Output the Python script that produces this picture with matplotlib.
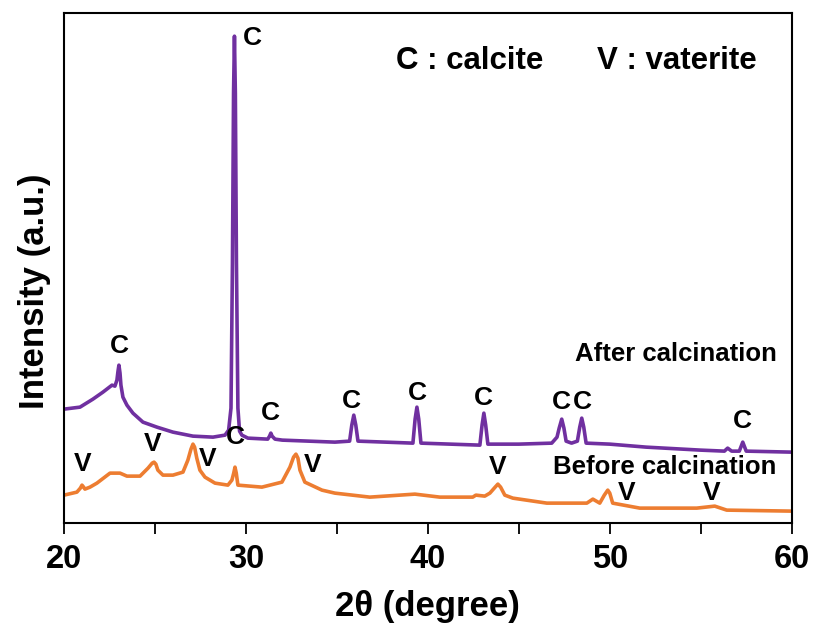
import numpy as np
import matplotlib
matplotlib.use('Agg')
import matplotlib.pyplot as plt
from matplotlib.ticker import MultipleLocator

plt.rcParams['font.family'] = ['Liberation Sans', 'DejaVu Sans']
plt.rcParams['font.weight'] = 'bold'

# XRD pattern after calcination (2theta, intensity a.u.)
after_x = [20.00, 20.88, 21.59, 22.14, 22.64, 22.80, 22.91, 22.97, 23.02, 23.08, 23.13, 23.24,
           23.46, 23.79, 24.34, 25.11, 25.99, 27.09, 28.19, 28.85, 29.05, 29.18,
           29.26, 29.32, 29.37, 29.42, 29.48, 29.56, 29.65, 29.78, 30.11, 31.20, 31.30, 31.37, 31.44,
           31.60, 32.00, 34.89, 35.70, 35.82, 35.93, 36.04, 36.16, 39.18, 39.30, 39.40, 39.50, 39.62,
           42.86, 42.98, 43.08, 43.18, 43.30, 45.00, 46.81, 47.10, 47.22, 47.36, 47.48, 47.60,
           47.90, 48.22, 48.35, 48.46, 48.57, 48.70, 50.00, 52.00, 55.00, 56.30, 56.48, 56.70,
           57.12, 57.31, 57.50, 60.00]
after_y = [114, 116, 124, 131, 138, 137, 143, 152, 158, 150, 138, 126,
           118, 110, 101, 96, 91, 87, 86, 88, 93, 115,
           260, 430, 487, 430, 260, 115, 92, 88, 85, 84, 87, 90, 87,
           84, 83, 81, 82, 98, 108, 98, 82, 80, 104, 116, 104, 80,
           78, 98, 110, 98, 79, 79, 80, 86, 95, 104, 95, 82,
           80, 82, 96, 105, 96, 80, 79, 76, 73, 72, 75, 72,
           72, 81, 72, 71]

# XRD pattern before calcination
before_x = [20.00, 20.71, 20.90, 20.99, 21.08, 21.15, 21.43, 21.81, 22.53, 23.08, 23.46, 24.18,
            24.62, 24.85, 24.95, 25.05, 25.16, 25.44, 25.99, 26.54, 26.81, 26.98, 27.09, 27.18,
            27.30, 27.47, 27.75, 28.30, 29.01, 29.23, 29.33, 29.40, 29.47, 29.56, 30.88, 31.98,
            32.42, 32.62, 32.75, 32.86, 32.97, 33.24, 34.18, 34.89, 36.81, 39.29, 40.66, 42.47,
            42.64, 43.13, 43.41, 43.70, 43.85, 44.00, 44.23, 44.67, 46.54, 48.74, 49.07, 49.45,
            49.70, 49.89, 50.00, 50.16, 51.65, 54.78, 55.77, 56.43, 60.00]
before_y = [28, 31, 35, 38, 36, 34, 36, 40, 50, 50, 47, 47,
            55, 60, 61, 59, 53, 48, 48, 51, 63, 74, 79, 76,
            65, 53, 46, 40, 38, 43, 50, 56, 50, 38, 36, 41,
            56, 66, 69, 65, 53, 41, 33, 30, 26, 29, 26, 26,
            28, 27, 30, 36, 39, 36, 28, 25, 20, 20, 24, 20,
            28, 33, 30, 20, 15, 15, 17, 13, 12]

# peak labels: (2theta, height)
calcite_x = [23.02, 30.33, 31.37, 35.82, 39.40, 43.08, 47.36, 48.52, 57.31, 29.40]
calcite_y = [177, 485, 110, 122, 130, 125, 121, 121, 102, 86]
vaterite_x = [21.04, 24.89, 27.91, 33.68, 43.85, 50.93, 55.60]
vaterite_y = [59, 79, 64, 58, 56, 30, 30]

fig = plt.figure(figsize=(8.14, 6.28), dpi=100)
ax = fig.add_axes([0.0786, 0.167, 0.894, 0.812])

ax.plot(after_x, after_y, color='#7030A0', linewidth=2.6)
ax.plot(before_x, before_y, color='#ED7D31', linewidth=2.6)

for x, y in zip(calcite_x, calcite_y):
    ax.text(x, y, 'C', ha='center', va='center', fontsize=19, fontweight='bold')
for x, y in zip(vaterite_x, vaterite_y):
    ax.text(x, y, 'V', ha='center', va='center', fontsize=19, fontweight='bold')

ax.text(53.63, 169, 'After calcination', ha='center', va='center', fontsize=18.5, fontweight='bold')
ax.text(53.02, 56, 'Before calcination', ha='center', va='center', fontsize=18.5, fontweight='bold')
ax.text(42.31, 462, 'C : calcite', ha='center', va='center', fontsize=22.5, fontweight='bold')
ax.text(53.71, 462, 'V : vaterite', ha='center', va='center', fontsize=22.5, fontweight='bold')

ax.set_xlim(20, 60)
ax.set_ylim(0, 510)
ax.xaxis.set_major_locator(MultipleLocator(10))
ax.xaxis.set_minor_locator(MultipleLocator(5))
ax.tick_params(axis='x', which='both', direction='out', length=8, width=1.3, labelsize=23.5, pad=7)
ax.set_yticks([])
for s in ax.spines.values():
    s.set_linewidth(1.5)

ax.set_xlabel('2θ (degree)', fontsize=25, fontweight='bold', labelpad=11)
ax.set_ylabel('Intensity (a.u.)', fontsize=25, fontweight='bold')
ax.yaxis.set_label_coords(-0.018, 0.455)

fig.savefig('out.png', dpi=100)
